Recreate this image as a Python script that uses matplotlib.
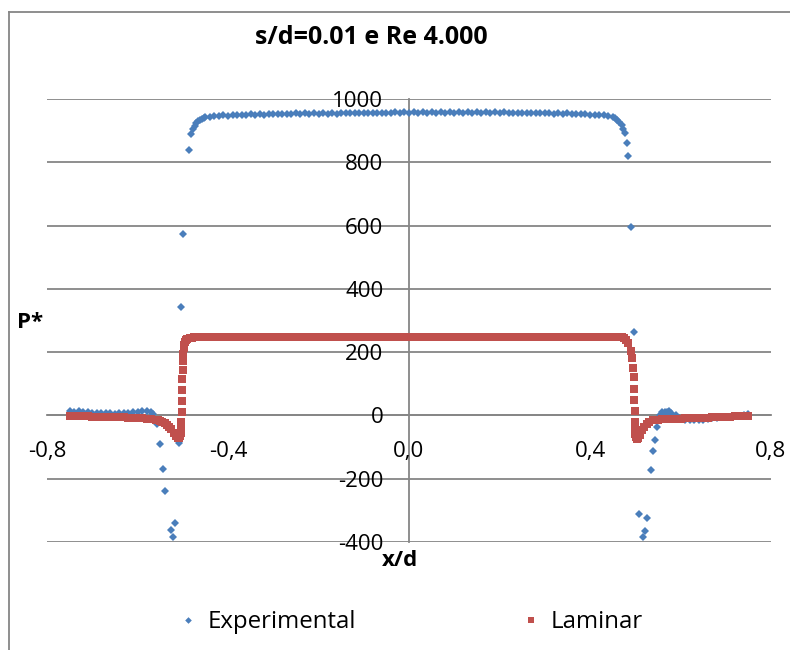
import matplotlib
matplotlib.use("Agg")
import matplotlib.pyplot as plt
from matplotlib.lines import Line2D

plt.rcParams['font.family'] = ['Open Sans', 'DejaVu Sans']

TITLE = "s/d=0.01 e Re 4.000"
X_LABEL = "x/d"
Y_LABEL = "P*"
SERIES = ["Experimental", "Laminar"]
X_TICKS = [-0.8, -0.4, 0.0, 0.4, 0.8]
X_TICK_LABELS = ["-0,8", "-0,4", "0,0", "0,4", "0,8"]
Y_TICKS = [-400, -200, 0, 200, 400, 600, 800, 1000]
Y_TICK_LABELS = ["-400", "-200", "0", "200", "400", "600", "800", "1000"]

# ---- Experimental ----
EXP_X_LEFT = [-0.75, -0.74, -0.73, -0.72, -0.71, -0.70, -0.69, -0.68, -0.67, -0.66,
              -0.65, -0.64, -0.63, -0.62, -0.61, -0.60, -0.59, -0.58, -0.57, -0.565]
EXP_Y_LEFT = [13, 12, 13, 11, 10, 9, 9, 8, 7, 7,
              6, 7, 8, 9, 10, 12, 14, 13, 11, 4]
EXP_X_DROP_L = [-0.5576, -0.550, -0.544, -0.5385, -0.527, -0.522, -0.517, -0.508, -0.503, -0.499,
                -0.487, -0.4825, -0.478, -0.474, -0.470, -0.466, -0.462, -0.458, -0.454, -0.450]
EXP_Y_DROP_L = [-26, -90, -169, -240, -361, -385, -341, -88, 343, 574,
                840, 890, 906, 916, 923, 929, 933, 937, 940, 942]
EXP_X_TOP = [-0.44, -0.43, -0.42, -0.41, -0.40, -0.39, -0.38, -0.37, -0.36, -0.35,
             -0.34, -0.33, -0.32, -0.31, -0.30, -0.29, -0.28, -0.27, -0.26, -0.25,
             -0.24, -0.23, -0.22, -0.21, -0.20, -0.19, -0.18, -0.17, -0.16, -0.15,
             -0.14, -0.13, -0.12, -0.11, -0.10, -0.09, -0.08, -0.07, -0.06, -0.05,
             -0.04, -0.03, -0.02, -0.01, 0.00, 0.01, 0.02, 0.03, 0.04, 0.05,
             0.06, 0.07, 0.08, 0.09, 0.10, 0.11, 0.12, 0.13, 0.14, 0.15,
             0.16, 0.17, 0.18, 0.19, 0.20, 0.21, 0.22, 0.23, 0.24, 0.25,
             0.26, 0.27, 0.28, 0.29, 0.30, 0.31, 0.32, 0.33, 0.34, 0.35,
             0.36, 0.37, 0.38, 0.39, 0.40, 0.41, 0.42, 0.43, 0.44]
EXP_Y_TOP = [944, 946, 945, 948, 947, 950, 949, 951, 950, 952,
             951, 953, 951, 953, 952, 954, 952, 954, 953, 955,
             953, 955, 953, 955, 954, 956, 954, 956, 954, 956,
             955, 957, 955, 956, 955, 957, 955, 957, 956, 957,
             955, 958, 956, 958, 957, 959, 957, 958, 957, 959,
             957, 958, 957, 959, 957, 958, 956, 958, 957, 958,
             956, 958, 957, 958, 956, 958, 956, 957, 956, 957,
             955, 957, 955, 956, 955, 956, 954, 956, 954, 955,
             953, 954, 952, 953, 951, 951, 949, 948, 945]
EXP_X_DROP_R = [0.450, 0.455, 0.460, 0.465, 0.470, 0.474, 0.477, 0.481, 0.4847, 0.4915,
                0.4975, 0.4995, 0.509, 0.518, 0.5215, 0.525, 0.534, 0.540, 0.5436, 0.549, 0.555]
EXP_Y_DROP_R = [943, 940, 935, 928, 918, 906, 892, 862, 820, 596,
                264, -26, -311, -385, -364, -325, -174, -113, -79, -37, 2]
EXP_X_RIGHT = [0.56, 0.565, 0.57, 0.575, 0.58, 0.59, 0.60, 0.61, 0.62, 0.63, 0.64,
               0.65, 0.66, 0.67, 0.68, 0.69, 0.70, 0.71, 0.72, 0.73, 0.74, 0.75]
EXP_Y_RIGHT = [10, 12, 11, 13, 9, 0, -12, -15, -16, -14, -15,
               -13, -10, -9, -7, -6, -5, -4, -3, -1, 1, 4]

# ---- Laminar ----
LAM_X_LEFT = [-0.75, -0.74, -0.73, -0.72, -0.71, -0.70, -0.69, -0.68, -0.67, -0.66,
              -0.65, -0.64, -0.63, -0.62, -0.61, -0.60, -0.59, -0.58, -0.57, -0.56]
LAM_Y_LEFT = [-2, -2, -3, -3, -3, -4, -4, -4, -5, -5,
              -5, -6, -6, -7, -7, -8, -9, -10, -12, -14]
LAM_X_DROP_L = [-0.555, -0.55, -0.545, -0.54, -0.535, -0.53, -0.525, -0.52, -0.515, -0.511,
                -0.508, -0.506, -0.5045, -0.5035, -0.503, -0.5025, -0.502, -0.5015, -0.501, -0.5005,
                -0.500, -0.499, -0.498, -0.497, -0.495, -0.493, -0.49, -0.485, -0.48, -0.475, -0.47]
LAM_Y_DROP_L = [-16, -18, -21, -25, -29, -35, -44, -56, -66, -72,
                -71, -66, -55, -40, -20, 10, 45, 80, 115, 145,
                172, 195, 212, 224, 233, 238, 242, 245, 246, 247, 248]
LAM_X_TOP = [-0.46, -0.45, -0.44, -0.43, -0.42, -0.41, -0.40, -0.39, -0.38, -0.37,
             -0.36, -0.35, -0.34, -0.33, -0.32, -0.31, -0.30, -0.29, -0.28, -0.27,
             -0.26, -0.25, -0.24, -0.23, -0.22, -0.21, -0.20, -0.19, -0.18, -0.17,
             -0.16, -0.15, -0.14, -0.13, -0.12, -0.11, -0.10, -0.09, -0.08, -0.07,
             -0.06, -0.05, -0.04, -0.03, -0.02, -0.01, 0.00, 0.01, 0.02, 0.03,
             0.04, 0.05, 0.06, 0.07, 0.08, 0.09, 0.10, 0.11, 0.12, 0.13,
             0.14, 0.15, 0.16, 0.17, 0.18, 0.19, 0.20, 0.21, 0.22, 0.23,
             0.24, 0.25, 0.26, 0.27, 0.28, 0.29, 0.30, 0.31, 0.32, 0.33,
             0.34, 0.35, 0.36, 0.37, 0.38, 0.39, 0.40, 0.41, 0.42, 0.43,
             0.44, 0.45, 0.46]
LAM_Y_TOP = [248, 248, 248, 248, 248, 248, 248, 248, 248, 248,
             248, 248, 248, 248, 248, 248, 248, 248, 248, 248,
             248, 248, 248, 248, 248, 248, 248, 248, 248, 248,
             248, 248, 248, 248, 248, 248, 248, 248, 248, 248,
             248, 248, 248, 248, 248, 248, 248, 248, 248, 248,
             248, 248, 248, 248, 248, 248, 248, 248, 248, 248,
             248, 248, 248, 248, 248, 248, 248, 248, 248, 248,
             248, 248, 248, 248, 248, 248, 248, 248, 248, 248,
             248, 248, 248, 248, 248, 248, 248, 248, 248, 248,
             248, 248, 248]
LAM_X_DROP_R = [0.47, 0.475, 0.48, 0.485, 0.49, 0.493, 0.495, 0.4965, 0.4975, 0.498,
                0.4985, 0.499, 0.4995, 0.500, 0.501, 0.503, 0.506, 0.51, 0.515, 0.52,
                0.525, 0.53, 0.54, 0.55]
LAM_Y_DROP_R = [247, 244, 238, 228, 205, 180, 150, 120, 85, 50,
                15, -20, -45, -60, -68, -73, -72, -62, -45, -35,
                -27, -21, -16, -13]
LAM_X_RIGHT = [0.56, 0.57, 0.58, 0.59, 0.60, 0.61, 0.62, 0.63, 0.64, 0.65,
               0.66, 0.67, 0.68, 0.69, 0.70, 0.71, 0.72, 0.73, 0.74, 0.75]
LAM_Y_RIGHT = [-12, -11, -11, -10, -10, -9, -9, -8, -8, -7,
               -7, -6, -5, -5, -4, -4, -3, -2, -2, -1]

exp_x = EXP_X_LEFT + EXP_X_DROP_L + EXP_X_TOP + EXP_X_DROP_R + EXP_X_RIGHT
exp_y = EXP_Y_LEFT + EXP_Y_DROP_L + EXP_Y_TOP + EXP_Y_DROP_R + EXP_Y_RIGHT
lam_x = LAM_X_LEFT + LAM_X_DROP_L + LAM_X_TOP + LAM_X_DROP_R + LAM_X_RIGHT
lam_y = LAM_Y_LEFT + LAM_Y_DROP_L + LAM_Y_TOP + LAM_Y_DROP_R + LAM_Y_RIGHT
assert len(exp_x) == len(exp_y) and len(lam_x) == len(lam_y)

BLUE = '#4A7EBB'
RED = '#C0504D'
GRID = '#868686'

W, H = 790, 650
fig = plt.figure(figsize=(W / 100, H / 100), dpi=100)
ax = fig.add_axes([47 / W, 108 / H, 724 / W, 443 / H])
ax.set_xlim(-0.8, 0.8)
ax.set_ylim(-400, 1000)

l1, = ax.plot(exp_x, exp_y, linestyle='none', marker='D', markersize=4.2,
              color=BLUE, markeredgewidth=0, label=SERIES[0])
l2, = ax.plot(lam_x, lam_y, linestyle='none', marker='s', markersize=5.8,
              color=RED, markeredgewidth=0, label=SERIES[1])

for side in ['top', 'right']:
    ax.spines[side].set_visible(False)
ax.spines['left'].set_position(('data', 0))
ax.spines['bottom'].set_position(('data', 0))
for side in ['left', 'bottom']:
    ax.spines[side].set_color(GRID)
    ax.spines[side].set_linewidth(1.3)
    ax.spines[side].set_zorder(0.5)

ax.set_yticks(Y_TICKS)
ax.set_yticklabels(Y_TICK_LABELS)
ax.set_xticks(X_TICKS)
ax.set_xticklabels(X_TICK_LABELS)
ax.tick_params(axis='both', length=0, labelsize=16, colors='black')
ax.tick_params(axis='y', pad=18.5)
ax.tick_params(axis='x', pad=18.5)
ax.yaxis.grid(True, color=GRID, linewidth=1.3)
ax.set_axisbelow(True)

ax.set_ylabel(Y_LABEL, rotation=0, fontsize=16, fontweight='bold', ha='center', va='center')
ax.yaxis.set_label_coords((30 - 47) / 724, (542 - 322) / 443)
ax.set_xlabel(X_LABEL, fontsize=16, fontweight='bold', ha='center', va='center')
ax.xaxis.set_label_coords((400 - 47) / 724, (542 - 561) / 443)

fig.text(371 / W, 1 - 38 / H, TITLE, fontsize=18, fontweight='bold', ha='center', va='center')

fig.legend(handles=[l1, l2], loc='center', bbox_to_anchor=(410.5 / W, 1 - 622 / H),
           ncol=2, frameon=False, fontsize=17.3, columnspacing=6.9, handlelength=0.8,
           handletextpad=0.4, markerscale=0.8)

fig.add_artist(Line2D([9 / W, 9 / W], [0, 1 - 12 / H], transform=fig.transFigure,
                      color=GRID, linewidth=1.3))
fig.add_artist(Line2D([9 / W, 1], [1 - 12 / H, 1 - 12 / H], transform=fig.transFigure,
                      color=GRID, linewidth=1.3))

fig.savefig('out.png', dpi=100)
